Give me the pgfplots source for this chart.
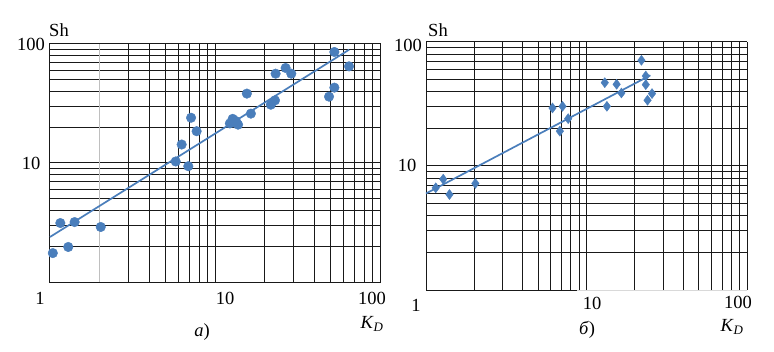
\documentclass[border=0pt]{standalone}
\usepackage{fontspec}
\setmainfont{Liberation Serif}
\usepackage{pgfplots}
\pgfplotsset{compat=1.18}
\definecolor{ptc}{RGB}{74,126,187}
\definecolor{gl}{RGB}{25,25,25}
\begin{document}
\fontsize{18.5bp}{22bp}\selectfont
\begin{tikzpicture}
\useasboundingbox (0bp,0bp) rectangle (774bp,352bp);
% ---- left panel ----
\begin{axis}[xmode=log, ymode=log, scale only axis, anchor=south west,
  at={(50bp,70bp)}, width=330bp, height=238bp,
  xmin=1, xmax=100, ymin=1, ymax=100,
  xtick={1,10,100}, ytick={1,10,100},
  minor ytick={2,3,4,5,6,7,8,9,20,30,40,50,60,70,80,90},
  minor xtick={3,4,5,6,7,8,9,20,30,40,50,60,70,80,90},
  xticklabels={}, yticklabels={},
  grid=both,
  major grid style={gl, line width=1bp},
  minor grid style={gl, line width=1bp},
  major tick length=0pt, minor tick length=0pt,
  axis line style={gl, line width=1bp},
  clip=false]
\draw[black!25, line width=1bp] (axis cs:2,1) -- (axis cs:2,100);
\addplot[only marks, mark=*, mark size=4.8bp, color=ptc, mark options={draw=ptc, fill=ptc}] coordinates {
(1.04,1.75) (1.155,3.13) (1.29,1.97) (1.41,3.19) (2.03,2.90)
(5.78,10.3) (6.28,14.3) (7.16,24.0) (6.89,9.4) (7.74,18.5)
(12.3,21.5) (12.8,23.5) (13.4,22.5) (13.8,21.0) (12.9,22.0)
(15.6,38.3) (16.5,26.0) (21.8,30.9) (23.1,33.6) (23.3,56.3)
(26.8,62.9) (29.0,56.3) (49.1,36.1) (52.9,43.0) (52.9,85.7) (64.9,64.9)};
\addplot[color=ptc, line width=1.7bp, no marks] coordinates {(1,2.39) (65,89.6)};
\end{axis}
% ---- right panel ----
\begin{axis}[xmode=log, ymode=log, scale only axis, anchor=south west,
  at={(426bp,62bp)}, width=321bp, height=248bp,
  xmin=1, xmax=100, ymin=1, ymax=100,
  xtick={1,10,100}, ytick={10,100},
  minor ytick={2,3,4,5,6,7,8,9,20,30,40,50,60,70,80,90},
  minor xtick={2,3,4,5,6,7,8,9,20,30,40,50,60,70,80,90},
  xticklabels={}, yticklabels={},
  grid=both,
  major grid style={gl, line width=1bp},
  minor grid style={gl, line width=1bp},
  major tick length=0pt, minor tick length=0pt,
  axis line style={draw=none},
  clip=false]
\draw[gl, line width=1bp] (axis cs:1,1) -- (axis cs:8.7,1);
\draw[black!15, line width=1bp] (axis cs:8.7,1) -- (axis cs:100,1);
\addplot[only marks, mark=diamond*, mark size=5bp, color=ptc, mark options={draw=ptc, fill=ptc}] coordinates {
(1.15,6.67) (1.28,7.83) (1.40,5.89) (2.03,7.23)
(6.14,29.4) (7.09,30.3) (6.82,19.1) (7.69,24.1)
(13.0,47.0) (13.4,30.3) (15.4,45.6) (16.5,38.8)
(22.0,71.2) (23.4,53.2) (23.4,45.3) (24.0,33.9) (25.6,38.4)};
\addplot[color=ptc, line width=1.7bp, no marks] coordinates {(1,6.0) (25,53.9)};
\end{axis}
% ---- labels ----
\node[inner sep=0] at (31bp,308bp) {100};
\node[inner sep=0] at (31bp,189bp) {10};
\node[inner sep=0] at (40bp,54bp) {1};
\node[inner sep=0] at (225bp,54bp) {10};
\node[inner sep=0] at (372bp,54bp) {100};
\node[inner sep=0] at (59bp,322bp) {Sh};
\node[inner sep=0] at (372bp,28bp) {\textit{K}\textsubscript{\textit{D}}};
\node[inner sep=0] at (202bp,20bp) {\textit{а})};
\node[inner sep=0] at (408bp,307bp) {100};
\node[inner sep=0] at (407bp,187bp) {10};
\node[inner sep=0] at (416bp,47bp) {1};
\node[inner sep=0] at (592bp,49bp) {10};
\node[inner sep=0] at (738bp,50bp) {100};
\node[inner sep=0] at (438bp,322bp) {Sh};
\node[inner sep=0] at (732bp,25bp) {\textit{K}\textsubscript{\textit{D}}};
\node[inner sep=0] at (587bp,22bp) {\textit{б})};
\end{tikzpicture}
\end{document}
